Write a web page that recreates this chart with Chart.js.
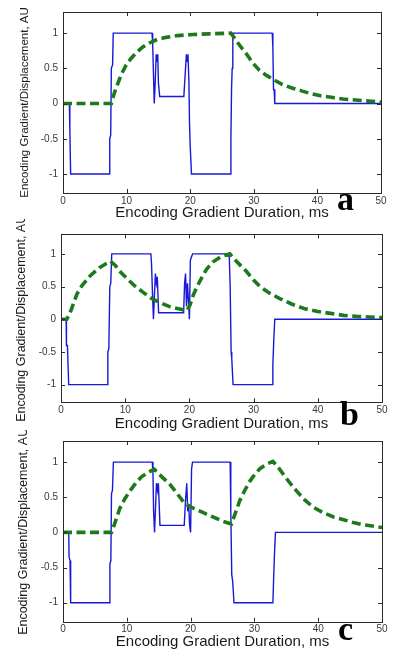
<!DOCTYPE html>
<html>
<head>
<meta charset="utf-8">
<script src="https://cdn.jsdelivr.net/npm/chart.js@4/dist/chart.umd.min.js"></script>
<style>
  html, body { margin: 0; padding: 0; background: #fff; }
  body { width: 398px; height: 656px; position: relative; overflow: hidden; }
  canvas { position: absolute; left: 0; }
</style>
</head>
<body>
<canvas id="cA"></canvas>
<canvas id="cB"></canvas>
<canvas id="cC"></canvas>
<script>
// ---------- data ----------
const xTickValues = [0, 10, 20, 30, 40, 50];
const yTickValues = [-1, -0.5, 0, 0.5, 1];
const panelLetters = ['a', 'b', 'c'];
const yAxisTitle = 'Encoding Gradient/Displacement, AU';
const xAxisTitle = 'Encoding Gradient Duration, ms';

// panel a – gradient (blue)
const gradATime  = [0, 1.0, 1.05, 1.1, 1.2, 7.3, 7.35, 7.5, 7.6, 7.8, 7.9, 14.0, 14.1, 14.2, 14.35, 14.5, 14.65, 14.8, 14.9, 15.0, 15.2, 19.0, 19.2, 19.4, 19.5, 19.65, 19.8, 19.9, 20.0, 20.2, 26.3, 26.4, 26.5, 26.6, 26.7, 26.8, 32.9, 33.0, 33.1, 33.2, 33.3, 50];
const gradAValue = [0, 0, -0.35, -0.35, -1, -1, -0.5, -0.45, 0.5, 0.55, 1, 1, 0.85, 0.5, 0, 0.3, 0.7, 0.6, 0.7, 0.3, 0.1, 0.1, 0.4, 0.7, 0.6, 0.7, 0.3, -0.3, -0.6, -1, -1, -0.5, 0.2, 0.5, 0.9, 1, 1, 0.8, 0.2, 0.2, 0, 0];
// panel a – displacement (green dashed)
const dispATime  = [0, 7.6, 8.0, 8.6, 9.2, 9.9, 10.6, 11.5, 12.5, 13.6, 14.8, 16.2, 18, 20.4, 23, 26.4, 27.2, 28, 28.8, 29.8, 30.9, 32, 33.1, 34.5, 36, 37.5, 39, 40.5, 42.4, 44, 46, 48, 50];
const dispAValue = [0, 0, 0.13, 0.28, 0.42, 0.54, 0.63, 0.72, 0.80, 0.86, 0.91, 0.94, 0.965, 0.98, 0.99, 1.0, 0.90, 0.80, 0.71, 0.58, 0.47, 0.40, 0.34, 0.27, 0.22, 0.18, 0.14, 0.11, 0.085, 0.065, 0.05, 0.035, 0.02];

// panel b – gradient
const gradBTime  = [0, 0.8, 0.85, 1.0, 1.2, 7.2, 7.3, 7.45, 7.6, 7.75, 7.9, 14.0, 14.1, 14.25, 14.4, 14.55, 14.7, 14.85, 15.0, 15.2, 19.1, 19.25, 19.4, 19.55, 19.7, 19.85, 20.0, 20.15, 20.3, 20.5, 26.2, 26.35, 26.5, 26.6, 26.8, 32.9, 33.0, 33.15, 33.3, 50];
const gradBValue = [0, 0, -0.4, -0.4, -1, -1, -0.5, -0.45, 0.5, 0.55, 1, 1, 0.85, 0.4, 0, 0.35, 0.7, 0.55, 0.65, 0.1, 0.1, 0.55, 0.7, 0.2, 0.55, 0.3, 0, 0.9, 0.95, 1, 1, 0.5, -0.5, -0.6, -1, -1, -0.7, -0.3, 0, 0];
// panel b – displacement
const dispBTime  = [0, 0.9, 1.3, 1.8, 2.5, 3.3, 4.6, 6.0, 7.0, 7.7, 8.5, 9.3, 10.3, 11.5, 12.7, 13.9, 15.3, 17.0, 18.3, 19.6, 20.1, 20.6, 21.3, 22.0, 22.7, 23.7, 24.8, 25.6, 26.3, 27.0, 27.8, 28.9, 30.0, 31.0, 32.5, 34, 36, 38, 40, 42, 44, 46, 48, 50];
const dispBValue = [0, 0, 0.07, 0.2, 0.39, 0.52, 0.67, 0.79, 0.85, 0.89, 0.82, 0.72, 0.62, 0.51, 0.42, 0.33, 0.26, 0.19, 0.16, 0.13, 0.22, 0.37, 0.52, 0.65, 0.77, 0.88, 0.95, 0.98, 1.0, 0.92, 0.84, 0.73, 0.6, 0.5, 0.4, 0.32, 0.23, 0.16, 0.12, 0.09, 0.06, 0.045, 0.035, 0.025];

// panel c – gradient
const gradCTime  = [0, 0.9, 0.95, 1.1, 1.2, 7.3, 7.35, 7.5, 7.6, 7.75, 7.9, 14.0, 14.1, 14.2, 14.35, 14.5, 14.65, 14.8, 14.95, 15.2, 19.0, 19.2, 19.4, 19.55, 19.7, 19.85, 20.0, 20.15, 20.3, 26.2, 26.3, 26.45, 26.6, 26.8, 32.9, 33.0, 33.15, 33.3, 50];
const gradCValue = [0, 0, -0.35, -0.4, -1, -1, -0.45, -0.4, 0.55, 0.6, 1, 1, 0.85, 0.3, 0, 0.35, 0.7, 0.6, 0.7, 0.1, 0.1, 0.45, 0.7, 0.3, 0.4, 0.1, 0, 0.9, 1, 1, 0.3, -0.6, -0.7, -1, -1, -0.7, -0.3, 0, 0];
// panel c – displacement
const dispCTime  = [0, 7.6, 8.0, 8.9, 9.7, 10.5, 11.4, 12.3, 13.3, 14.3, 15.5, 16.7, 17.9, 19.1, 20.5, 22.0, 23.5, 25.0, 26.4, 27.0, 27.7, 28.5, 29.3, 30.1, 30.9, 31.9, 32.9, 33.7, 34.5, 35.5, 36.6, 37.8, 39.2, 40.8, 42.4, 44, 45.5, 47, 48.5, 50];
const dispCValue = [0, 0, 0.1, 0.34, 0.48, 0.59, 0.7, 0.79, 0.85, 0.9, 0.79, 0.69, 0.55, 0.41, 0.34, 0.28, 0.22, 0.16, 0.12, 0.27, 0.45, 0.6, 0.73, 0.83, 0.91, 0.97, 1.01, 0.93, 0.83, 0.71, 0.59, 0.47, 0.36, 0.28, 0.22, 0.18, 0.14, 0.11, 0.09, 0.07];

// ---------- layout (not data) ----------
const panels = [
  { id: 'cA', top: 0,   h: 232, plotTop: 12,   plotBottom: 193,   plotLeft: 63, plotRight: 381, xTitleY: 213, yTitleX: 25, yTitleSize: 11.5, letterX: 337, letterY: 210,
    grad: [gradATime, gradAValue], disp: [dispATime, dispAValue], letter: panelLetters[0] },
  { id: 'cB', top: 219, h: 220, plotTop: 15.3, plotBottom: 183.3, plotLeft: 61, plotRight: 382, xTitleY: 205, yTitleX: 22, yTitleSize: 12.5, letterX: 340, letterY: 206,
    grad: [gradBTime, gradBValue], disp: [dispBTime, dispBValue], letter: panelLetters[1] },
  { id: 'cC', top: 430, h: 226, plotTop: 7.7,  plotBottom: 191.7, plotLeft: 63, plotRight: 382, xTitleY: 212, yTitleX: 24, yTitleSize: 12.5, letterX: 338, letterY: 210,
    grad: [gradCTime, gradCValue], disp: [dispCTime, dispCValue], letter: panelLetters[2] }
];

const FONT = "'Liberation Sans', Arial, sans-serif";
const toXY = (xs, ys) => xs.map((x, i) => ({ x: x, y: ys[i] }));

const framePlugin = {
  id: 'frame',
  afterDraw(chart, args, opts) {
    const { ctx, chartArea: a, scales } = chart;
    ctx.save();
    ctx.strokeStyle = '#2a2a2a';
    ctx.lineWidth = 1;
    ctx.strokeRect(Math.round(a.left) + 0.5, Math.round(a.top) + 0.5, Math.round(a.right - a.left), Math.round(a.bottom - a.top));
    const tl = 4;
    ctx.beginPath();
    yTickValues.forEach(v => {
      const py = Math.round(scales.y.getPixelForValue(v)) + 0.5;
      ctx.moveTo(a.left, py); ctx.lineTo(a.left + tl, py);
      ctx.moveTo(a.right, py); ctx.lineTo(a.right - tl, py);
    });
    xTickValues.forEach(v => {
      const px = Math.round(scales.x.getPixelForValue(v)) + 0.5;
      ctx.moveTo(px, a.bottom); ctx.lineTo(px, a.bottom - tl);
      ctx.moveTo(px, a.top); ctx.lineTo(px, a.top + tl);
    });
    ctx.stroke();
    // panel letter
    ctx.fillStyle = '#000';
    ctx.font = "bold 34px 'Liberation Serif', 'Times New Roman', serif";
    ctx.textBaseline = 'alphabetic';
    ctx.textAlign = 'left';
    ctx.fillText(opts.letter, opts.x, opts.y);
    ctx.restore();
  }
};

panels.forEach(p => {
  const cv = document.getElementById(p.id);
  cv.width = 398; cv.height = p.h;
  cv.style.top = p.top + 'px';
  cv.style.width = '398px'; cv.style.height = p.h + 'px';
  const xH = p.xTitleY + 10 - p.plotBottom;
  new Chart(cv.getContext('2d'), {
    type: 'line',
    data: {
      datasets: [
        { label: 'Displacement', data: toXY(p.disp[0], p.disp[1]), borderColor: '#1c7a1c', borderWidth: 3.6,
          borderDash: [9, 4.5], pointRadius: 0, tension: 0, fill: false },
        { label: 'Gradient', data: toXY(p.grad[0], p.grad[1]), borderColor: '#1818d8', borderWidth: 1.4,
          pointRadius: 0, tension: 0, fill: false }
      ]
    },
    options: {
      responsive: false,
      animation: false,
      devicePixelRatio: 1,
      layout: { padding: { left: 0, right: 398 - p.plotRight, top: p.plotTop, bottom: p.h - p.plotBottom - xH } },
      plugins: {
        legend: { display: false }, tooltip: { enabled: false },
        frame: { letter: p.letter, x: p.letterX, y: p.letterY }
      },
      scales: {
        x: {
          type: 'linear', min: 0, max: 50,
          afterBuildTicks: s => { s.ticks = xTickValues.map(v => ({ value: v })); },
          afterFit: s => { s.height = xH; },
          grid: { display: false, drawTicks: false },
          border: { display: false },
          ticks: { padding: 2, autoSkip: false, maxRotation: 0, color: '#3a3a3a', font: { family: FONT, size: 10 }, callback: v => String(v) },
          title: { display: true, text: xAxisTitle, color: '#1a1a1a', padding: { top: 0, bottom: 2.5 },
                   font: { family: FONT, size: 15, lineHeight: 1 } }
        },
        y: {
          type: 'linear', min: -1.27, max: 1.30,
          afterBuildTicks: s => { s.ticks = yTickValues.map(v => ({ value: v })); },
          afterFit: s => { s.width = p.plotLeft; },
          grid: { display: false, drawTicks: false },
          border: { display: false },
          ticks: { padding: 5, autoSkip: false, color: '#3a3a3a', font: { family: FONT, size: 10 }, callback: v => String(v) },
          title: { display: true, text: yAxisTitle, color: '#1a1a1a', padding: { top: p.yTitleX - p.yTitleSize / 2, bottom: 0 },
                   font: { family: FONT, size: p.yTitleSize, lineHeight: 1 } }
        }
      }
    },
    plugins: [framePlugin]
  });
});
</script>
</body>
</html>
